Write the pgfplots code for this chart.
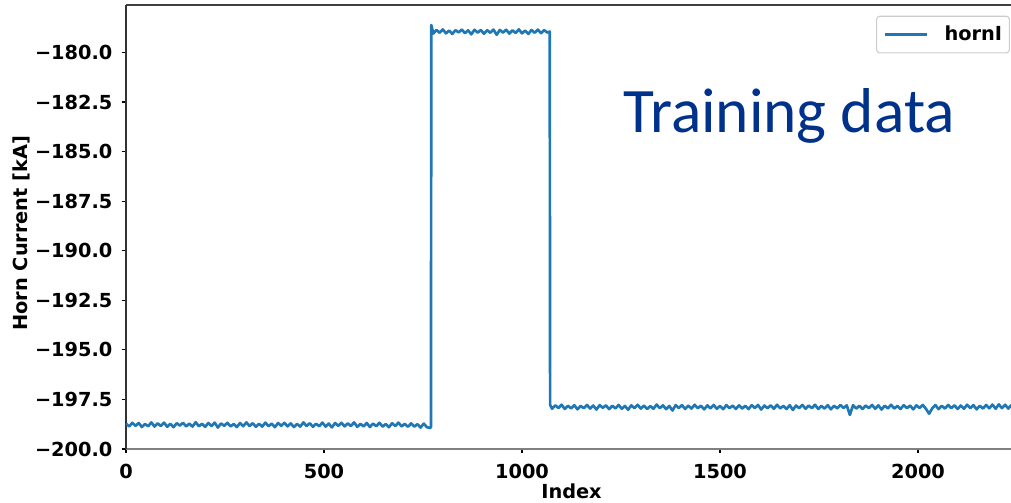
\documentclass[border=0pt]{standalone}
\usepackage{fontspec}
\setmainfont{DejaVu Sans}
\newfontfamily\carlito{Carlito}
\usepackage{pgfplots}
\pgfplotsset{compat=1.18}
\definecolor{mplblue}{HTML}{1F77B4}
\definecolor{tdblue}{RGB}{0,50,140}
\newcommand{\lf}{\fontsize{14.5}{17}\selectfont\bfseries}
\begin{document}
\begin{tikzpicture}
\begin{axis}[
  at={(0,0)}, anchor=south west,
  scale only axis, width=668.25pt, height=333pt,
  xmin=0, xmax=2250, ymin=-200, ymax=-177.61,
  axis x line*=bottom, axis y line*=left,
  x axis line style={-, black!50, line width=1pt},
  y axis line style={-, black!80, line width=1pt},
  xtick={0,500,1000,1500,2000},
  xticklabels={0,500,1000,1500,2000},
  ytick={-200,-197.5,-195,-192.5,-190,-187.5,-185,-182.5,-180},
  yticklabels={−200.0,−197.5,−195.0,−192.5,−190.0,−187.5,−185.0,−182.5,−180.0},
  tick align=outside, major tick length=3pt,
  tick style={black, line width=0.8pt},
  xtick pos=bottom, ytick pos=left,
  ticklabel style={font=\lf},
  xticklabel style={inner sep=0pt, anchor=north, yshift=-8.5pt},
  yticklabel style={inner sep=0pt, anchor=east, xshift=-7pt},
  xlabel={Index}, ylabel={Horn Current [kA]},
  every axis x label/.style={at={(axis description cs:0.5,0)}, anchor=north, yshift=-26.25pt, font=\lf, inner sep=0pt},
  every axis y label/.style={at={(axis description cs:-0.1075,0.486)}, rotate=90, anchor=south, font=\lf, inner sep=0pt},
  legend style={at={(axis description cs:0.9921,0.9759)}, anchor=north east,
    draw=black!20, rounded corners=2.5pt, line width=0.8pt,
    inner xsep=5.5pt, inner ysep=0pt,
    nodes={inner xsep=0pt, inner ysep=7.5pt},
    /tikz/every odd column/.append style={column sep=12pt},
    font=\lf},
  legend image code/.code={\draw[#1] (0pt,0pt) -- (31.5pt,0pt);},
  clip=true,
]
\addplot[mplblue, line width=2pt, line join=round] coordinates {
(0,-198.72) (8,-198.86) (16,-198.68) (24,-198.83) (32,-198.69) (40,-198.89) (48,-198.74) (56,-198.85)
(64,-198.66) (72,-198.87) (80,-198.71) (88,-198.84) (96,-198.67) (104,-198.88) (112,-198.73) (120,-198.90)
(128,-198.70) (136,-198.82) (144,-198.68) (152,-198.86)
(160,-198.72) (168,-198.87) (176,-198.65) (184,-198.85) (192,-198.73) (200,-198.88) (208,-198.69) (216,-198.84)
(224,-198.67) (232,-198.92) (240,-198.71) (248,-198.83) (256,-198.68) (264,-198.86) (272,-198.74) (280,-198.89)
(288,-198.69) (296,-198.85) (304,-198.66) (312,-198.84)
(320,-198.70) (328,-198.88) (336,-198.73) (344,-198.87) (352,-198.67) (360,-198.85) (368,-198.72) (376,-198.90)
(384,-198.69) (392,-198.83) (400,-198.68) (408,-198.86) (416,-198.71) (424,-198.89) (432,-198.74) (440,-198.87)
(448,-198.66) (456,-198.84) (464,-198.70) (472,-198.88)
(480,-198.73) (488,-198.85) (496,-198.67) (504,-198.87) (512,-198.72) (520,-198.91) (528,-198.69) (536,-198.83)
(544,-198.68) (552,-198.86) (560,-198.71) (568,-198.84) (576,-198.66) (584,-198.88) (592,-198.73) (600,-198.86)
(608,-198.69) (616,-198.89) (624,-198.72) (632,-198.85)
(640,-198.68) (648,-198.87) (656,-198.74) (664,-198.90) (672,-198.70) (680,-198.84) (688,-198.67) (696,-198.86)
(704,-198.73) (712,-198.88) (720,-198.71) (728,-198.87) (736,-198.75) (744,-198.92) (752,-198.72) (760,-198.90)
(768,-198.94) (770,-198.90)
(771,-178.62) (776,-179.05) (784,-178.87) (792,-179.01) (800,-178.84) (808,-179.04) (816,-178.90) (824,-179.07)
(832,-178.88) (840,-178.99) (848,-178.85) (856,-179.03) (864,-178.89) (872,-179.09) (880,-178.86) (888,-179.00)
(896,-178.87) (904,-179.06) (912,-178.88) (920,-179.01) (928,-178.85) (936,-179.11) (944,-178.87) (952,-179.00)
(960,-178.86) (968,-179.05) (976,-178.89) (984,-179.02) (992,-178.84) (1000,-179.04) (1008,-178.90) (1016,-179.07)
(1024,-178.87) (1032,-179.01) (1040,-178.85) (1048,-179.03) (1056,-178.88) (1064,-179.00) (1070,-178.95)
(1071,-197.78) (1076,-197.97) (1084,-197.80) (1092,-197.93) (1100,-197.77) (1108,-197.98) (1116,-197.82) (1124,-197.95)
(1132,-197.79) (1140,-198.00) (1148,-197.83) (1156,-197.94) (1164,-197.78) (1172,-197.96) (1180,-197.81) (1188,-198.01)
(1196,-197.79) (1204,-197.92) (1212,-197.80) (1220,-197.99) (1228,-197.82)
(1236,-197.95) (1244,-197.78) (1252,-197.97) (1260,-197.83) (1268,-198.02) (1276,-197.80) (1284,-197.94) (1292,-197.77)
(1300,-197.96) (1308,-197.81) (1316,-197.98) (1324,-197.84) (1332,-197.97) (1340,-197.76) (1348,-197.94) (1356,-197.80)
(1364,-197.99) (1372,-197.83) (1380,-198.06) (1388,-197.79)
(1396,-197.93) (1404,-197.79) (1412,-197.98) (1420,-197.81) (1428,-197.96) (1436,-197.77) (1444,-197.94) (1452,-197.82)
(1460,-198.00) (1468,-197.80) (1476,-197.95) (1484,-197.78) (1492,-197.97) (1500,-197.83) (1508,-197.99) (1516,-197.79)
(1524,-197.94) (1532,-197.81) (1540,-197.98) (1548,-197.80)
(1556,-197.96) (1564,-197.82) (1572,-197.99) (1580,-197.79) (1588,-197.93) (1596,-197.78) (1604,-198.01) (1612,-197.81)
(1620,-197.94) (1628,-197.80) (1636,-197.97) (1644,-197.77) (1652,-197.95) (1660,-197.83) (1668,-197.98) (1676,-197.79)
(1684,-198.03) (1692,-197.81) (1700,-197.94) (1708,-197.78)
(1716,-197.97) (1724,-197.81) (1732,-197.94) (1740,-197.77) (1748,-197.98) (1756,-197.83) (1764,-197.96) (1772,-197.79)
(1780,-198.00) (1788,-197.82) (1796,-197.95) (1804,-197.78) (1812,-197.93) (1820,-197.80) (1828,-198.28) (1836,-197.79)
(1844,-197.96) (1852,-197.82) (1860,-197.98) (1868,-197.81)
(1876,-197.94) (1884,-197.78) (1892,-197.97) (1900,-197.80) (1908,-198.01) (1916,-197.82) (1924,-197.95) (1932,-197.77)
(1940,-197.96) (1948,-197.83) (1956,-197.98) (1964,-197.79) (1972,-197.94) (1980,-197.81) (1988,-198.00) (1996,-197.80)
(2004,-197.93) (2012,-197.78) (2020,-197.97) (2028,-198.22)
(2036,-197.95) (2044,-197.79) (2052,-197.99) (2060,-197.82) (2068,-197.96) (2076,-197.78) (2084,-197.94)
(2092,-197.80) (2100,-197.98) (2108,-197.81) (2116,-197.97) (2124,-197.77) (2132,-197.94) (2140,-197.79) (2148,-198.00)
(2156,-197.82) (2164,-197.96) (2172,-197.78) (2180,-197.95) (2188,-197.76) (2196,-197.97) (2204,-197.75) (2212,-197.94)
(2220,-197.77) (2228,-197.96) (2236,-197.78) (2244,-197.95) (2250,-197.83)
};
\addlegendentry{hornI}
\draw[black!75, line width=1pt] (rel axis cs:0,1) -- (rel axis cs:1,1);
\end{axis}
\node[anchor=base west, inner sep=0pt, text=tdblue, font=\carlito\fontsize{47.5}{51}\selectfont] at (372.75pt,237.2pt) {Training data};
\pgfresetboundingbox
\useasboundingbox (-94.5pt,-40.5pt) rectangle (663.75pt,336.75pt);
\end{tikzpicture}
\end{document}
